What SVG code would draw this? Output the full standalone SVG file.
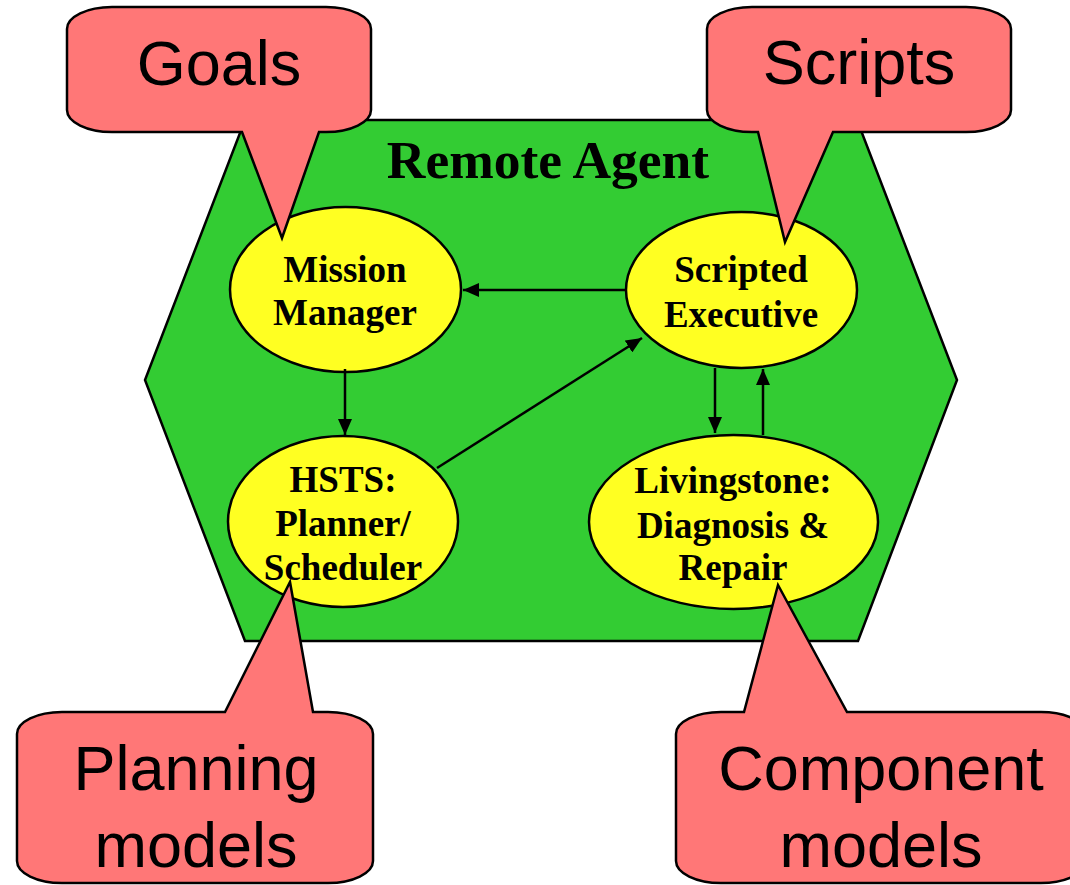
<svg xmlns="http://www.w3.org/2000/svg" width="1070" height="885" viewBox="0 0 1070 885">
<defs>
<style>
.hex{fill:#33CC33;stroke:#000;stroke-width:2.5}
.node{fill:#FFFF22;stroke:#000;stroke-width:2.5}
.call{fill:#FF7777;stroke:#000;stroke-width:2.5;stroke-linejoin:miter}
.ntext{font-family:"Liberation Serif","Times New Roman",serif;font-weight:bold;font-size:37px;fill:#000;text-anchor:middle}
.ctext{font-family:"Liberation Sans",Arial,sans-serif;font-size:63px;fill:#000;text-anchor:middle}
.title{font-family:"Liberation Serif","Times New Roman",serif;font-weight:bold;font-size:53.5px;fill:#000;text-anchor:middle}
.conn{stroke:#000;stroke-width:2.5;fill:none;marker-end:url(#arr)}
</style>
<marker id="arr" markerWidth="16" markerHeight="14" refX="16" refY="7" orient="auto" markerUnits="userSpaceOnUse">
<path d="M0,0 L16,7 L0,14 Z" fill="#000"/>
</marker>
</defs>
<rect width="1070" height="885" fill="#fff"/>
<g id="remote-agent">
<polygon class="hex" points="245,120 857,120 957,380 858,641 245,641 145,380"/>
<text class="title" x="548" y="178">Remote Agent</text>
</g>
<g id="mission-manager">
<ellipse class="node" cx="345.5" cy="289.5" rx="115.5" ry="82.5"/>
<text class="ntext" x="345" y="282">Mission</text>
<text class="ntext" x="345" y="325">Manager</text>
</g>
<g id="scripted-executive">
<ellipse class="node" cx="741.5" cy="290" rx="115.5" ry="78"/>
<text class="ntext" x="741" y="282">Scripted</text>
<text class="ntext" x="741" y="327">Executive</text>
</g>
<g id="hsts">
<ellipse class="node" cx="343" cy="521.5" rx="115" ry="85.5"/>
<text class="ntext" x="343" y="492">HSTS:</text>
<text class="ntext" x="343" y="536">Planner/</text>
<text class="ntext" x="343" y="580">Scheduler</text>
</g>
<g id="livingstone">
<ellipse class="node" cx="733.5" cy="522" rx="144.5" ry="87"/>
<text class="ntext" x="733" y="493">Livingstone:</text>
<text class="ntext" x="733" y="538">Diagnosis &amp;</text>
<text class="ntext" x="733" y="580">Repair</text>
</g>
<g id="connectors">
<line class="conn" x1="625" y1="290" x2="463" y2="290"/>
<line class="conn" x1="345" y1="369" x2="345" y2="435"/>
<line class="conn" x1="437" y1="468" x2="642" y2="338"/>
<line class="conn" x1="715" y1="368" x2="715" y2="433"/>
<line class="conn" x1="763" y1="435" x2="763" y2="369"/>
</g>
<g id="goals">
<path class="call" d="M112,7 H326 A45,22 0 0 1 371,29 V110 A45,22 0 0 1 326,132 H319 L282,238 L242,132 H112 A45,22 0 0 1 67,110 V29 A45,22 0 0 1 112,7 Z"/>
<text class="ctext" x="219" y="85">Goals</text>
</g>
<g id="scripts">
<path class="call" d="M752,7 H966 A45,22 0 0 1 1011,29 V110 A45,22 0 0 1 966,132 H833 L785,242 L758,132 H752 A45,22 0 0 1 707,110 V29 A45,22 0 0 1 752,7 Z"/>
<text class="ctext" x="859" y="84">Scripts</text>
</g>
<g id="planning-models">
<path class="call" d="M62,712 H225 L290,582 L313,712 H328 A45,22 0 0 1 373,734 V861 A45,22 0 0 1 328,883 H62 A45,22 0 0 1 17,861 V734 A45,22 0 0 1 62,712 Z"/>
<text class="ctext" x="196" y="790">Planning</text>
<text class="ctext" x="196" y="867">models</text>
</g>
<g id="component-models">
<path class="call" d="M721,712 H744 L778,585 L847,712 H1041 A45,22 0 0 1 1086,734 V861 A45,22 0 0 1 1041,883 H721 A45,22 0 0 1 676,861 V734 A45,22 0 0 1 721,712 Z"/>
<text class="ctext" x="881" y="790">Component</text>
<text class="ctext" x="881" y="867">models</text>
</g>
</svg>
